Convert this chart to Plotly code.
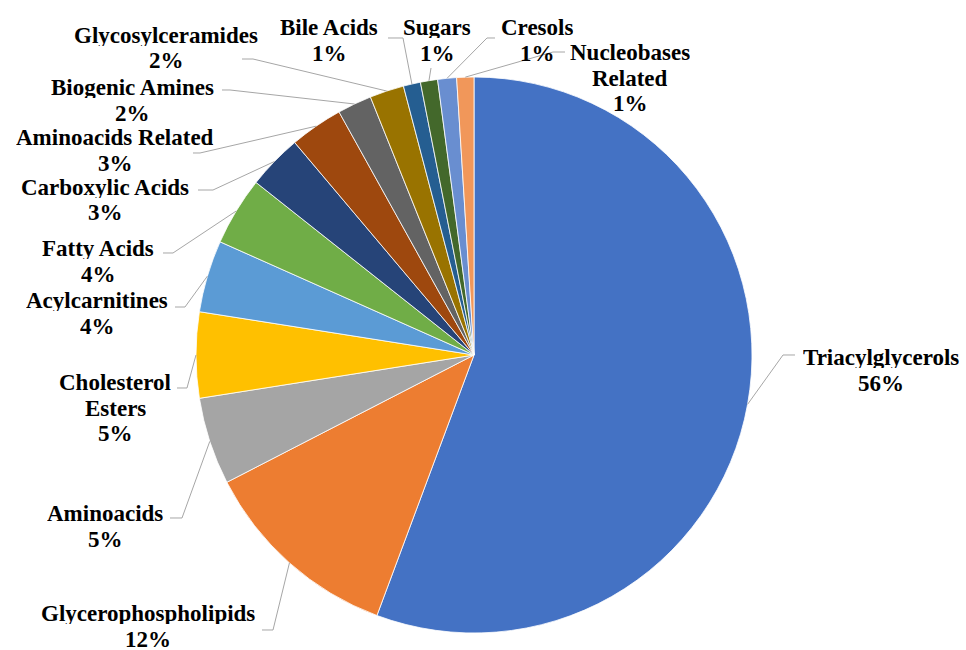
import math
import plotly.graph_objects as go

categories = ["Triacylglycerols", "Glycerophospholipids", "Aminoacids", "Cholesterol Esters",
              "Acylcarnitines", "Fatty Acids", "Carboxylic Acids", "Aminoacids Related",
              "Biogenic Amines", "Glycosylceramides", "Bile Acids", "Sugars", "Cresols",
              "Nucleobases Related"]
values = [55.9, 11.8, 5.1, 5.0, 4.2, 4.0, 3.2, 3.1, 2.0, 2.0, 1.0, 1.0, 1.1, 1.0]
label_lines = [["Triacylglycerols"], ["Glycerophospholipids"], ["Aminoacids"],
               ["Cholesterol", "Esters"], ["Acylcarnitines"], ["Fatty Acids"],
               ["Carboxylic Acids"], ["Aminoacids Related"], ["Biogenic Amines"],
               ["Glycosylceramides"], ["Bile Acids"], ["Sugars"], ["Cresols"],
               ["Nucleobases", "Related"]]
colors = ["#4472C4", "#ED7D31", "#A5A5A5", "#FFC000", "#5B9BD5", "#70AD47", "#264478",
          "#9E480E", "#636363", "#997300", "#255E91", "#43682B", "#698ED0", "#F1975A"]

W, H = 966, 650
CX, CY, R = 474, 355, 278
LINE_H = 25.5

# label layout (pixels): centre x and y of first text line, leader elbow, leader end
label_pos = [(881, 357), (148, 613), (105, 513), (115, 382), (97, 300), (98, 248),
             (105, 187), (115, 137), (132, 87), (166, 35), (329, 27), (437, 27),
             (537, 27), (630, 52)]
elbows = [(783, 355), (273, 630), (182, 518), (187, 388), (185, 307), (173, 253),
          (213, 190), (200, 153), (230, 90), (253, 59), (403, 38), (431, 68),
          (487, 38), (553, 52)]
ends = [(795, 355), (262, 630), (170, 518), (177, 388), (175, 307), (163, 253),
        (198, 190), (193, 153), (222, 90), (242, 59), (388, 38), (431, 68),
        (495, 38), (565, 52)]

fig = go.Figure()
fig.add_trace(go.Pie(
    labels=categories, values=values, sort=False, direction="clockwise", rotation=0,
    marker=dict(colors=colors, line=dict(color="white", width=0.8)),
    textinfo="none", hoverinfo="label+percent", showlegend=False,
    domain=dict(x=[(CX - R) / W, (CX + R) / W], y=[1 - (CY + R) / H, 1 - (CY - R) / H]),
))

total = sum(values)
cum = 0.0
shapes = []
annotations = []
font = dict(family="Liberation Serif, Times New Roman, serif", size=23, color="black")
for i, v in enumerate(values):
    mid = (cum + v / 2) / total
    cum += v
    th = 2 * math.pi * mid
    ex, ey = CX + R * math.sin(th), CY - R * math.cos(th)
    pts = [(ex, ey), elbows[i], ends[i]]
    path = "M " + " L ".join(f"{x / W:.5f},{1 - y / H:.5f}" for x, y in pts)
    shapes.append(dict(type="path", xref="paper", yref="paper", path=path,
                       line=dict(color="#A6A6A6", width=1)))
    pct = round(v / total * 100)
    tx, ty = label_pos[i]
    lines = label_lines[i] + [f"{pct}%"]
    for k, line in enumerate(lines):
        annotations.append(dict(
            x=tx / W, y=1 - (ty + k * LINE_H) / H, xref="paper", yref="paper",
            showarrow=False, text=f"<b>{line}</b>", align="center",
            xanchor="center", yanchor="middle", font=font, height=22,
        ))

fig.update_layout(
    width=W, height=H, margin=dict(l=0, r=0, t=0, b=0),
    paper_bgcolor="white", plot_bgcolor="white",
    shapes=shapes, annotations=annotations,
)
fig.write_html("out.html", post_script="document.body.style.margin='0px';",
               config={"displayModeBar": False})
